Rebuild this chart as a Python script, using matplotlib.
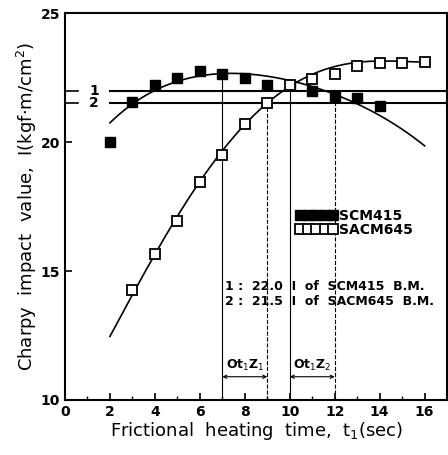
import numpy as np
import matplotlib
matplotlib.use("Agg")
import matplotlib.pyplot as plt
from matplotlib.ticker import MultipleLocator

# measured points
t_scm = [2, 3, 4, 5, 6, 7, 8, 9, 10, 11, 12, 13, 14]
i_scm = [20.0, 21.55, 22.2, 22.5, 22.75, 22.65, 22.5, 22.2, 22.2, 22.0, 21.8, 21.7, 21.4]
t_sacm = [3, 4, 5, 6, 7, 8, 9, 10, 11, 12, 13, 14, 15, 16]
i_sacm = [14.25, 15.65, 16.95, 18.45, 19.5, 20.7, 21.5, 22.2, 22.45, 22.65, 22.95, 23.05, 23.05, 23.1]

# fitted curves
curve_t_scm = [2, 4, 6, 8, 10, 12, 14, 16]
curve_i_scm = [20.75, 22.0, 22.55, 22.7, 22.35, 21.85, 21.05, 19.85]
curve_t_sacm = [2, 4, 6, 8, 10, 12, 14, 16]
curve_i_sacm = [12.45, 15.7, 18.4, 20.7, 22.2, 22.9, 23.15, 23.1]

# base-metal reference levels
ref_labels = ["1", "2"]
ref_values = [22.0, 21.5]

# verticals / ranges
vlines_x = [7, 9, 10, 12]
vlines_top = [22.65, 21.5, 22.2, 21.85]
ranges = [(7, 9, "Ot$_1$Z$_1$"), (10, 12, "Ot$_1$Z$_2$")]

fig = plt.figure(figsize=(4.48, 4.55), dpi=100)
ax = fig.add_axes([0.145, 0.121, 0.853, 0.85])
ax.set_xlim(0, 17)
ax.set_ylim(10, 25)

# curves
for ct, ci in [(curve_t_scm, curve_i_scm), (curve_t_sacm, curve_i_sacm)]:
    coef = np.polyfit(ct, ci, 4)
    xs = np.linspace(ct[0], ct[-1], 200)
    ax.plot(xs, np.polyval(coef, xs), color="black", lw=1.2, zorder=2)

ax.plot(t_scm, i_scm, ls="none", marker="s", ms=7, mfc="black", mec="black",
        label="SCM415", zorder=4)
ax.plot(t_sacm, i_sacm, ls="none", marker="s", ms=7, mfc="white", mec="black",
        mew=1.3, label="SACM645", zorder=4)

# reference lines 1 / 2
for lab, v in zip(ref_labels, ref_values):
    ax.plot([0, 0.6], [v, v], color="black", lw=1.2)
    ax.plot([2, 17], [v, v], color="black", lw=1.5, zorder=1)
    ax.text(1.3, v, lab, ha="center", va="center", fontsize=10, fontweight="bold")

# vertical lines
for x, top in zip(vlines_x, vlines_top):
    ls = "--" if x in (9, 12) else "-"
    ax.plot([x, x], [10, top], color="black", lw=0.8, ls=ls, zorder=1)

# range arrows
for x0, x1, lab in ranges:
    ax.annotate("", xy=(x0, 10.9), xytext=(x1, 10.9),
                arrowprops=dict(arrowstyle="<->", lw=0.8, color="black",
                                shrinkA=0, shrinkB=0, mutation_scale=6))
    ax.text((x0 + x1) / 2, 11.05, lab, ha="center", va="bottom", fontsize=9,
            fontweight="bold")

ax.text(7.1, 14.4, "1 :  22.0  I  of  SCM415  B.M.", fontsize=9, fontweight="bold",
        va="center")
ax.text(7.1, 13.8, "2 :  21.5  I  of  SACM645  B.M.", fontsize=9, fontweight="bold",
        va="center")

leg = ax.legend(loc="upper left", bbox_to_anchor=(0.585, 0.512), numpoints=5,
                frameon=False, handlelength=3.0, handletextpad=0.1,
                labelspacing=0.0, borderpad=0, prop=dict(size=10, weight="bold"),
                markerscale=1.0)

ax.xaxis.set_major_locator(MultipleLocator(2))
ax.xaxis.set_minor_locator(MultipleLocator(1))
ax.yaxis.set_major_locator(MultipleLocator(5))
ax.tick_params(direction="in", length=5, width=1.2, labelsize=10)
ax.tick_params(which="minor", direction="in", length=3, width=1.0)
for lab in ax.get_xticklabels() + ax.get_yticklabels():
    lab.set_fontweight("bold")
for sp in ax.spines.values():
    sp.set_linewidth(1.5)

ax.set_xlabel("Frictional  heating  time,  t$_1$(sec)", fontsize=13, labelpad=1)
ax.set_ylabel("Charpy  impact  value,  I(kgf$\\cdot$m/cm$^2$)", fontsize=13, labelpad=1)

fig.savefig("out.png", dpi=100)
